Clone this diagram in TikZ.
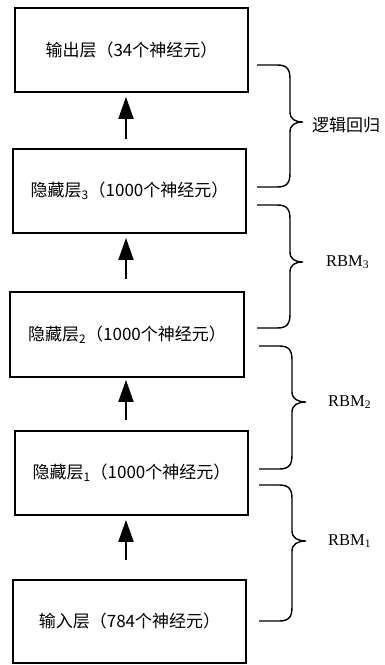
\documentclass[tikz,border=0pt]{standalone}
\usepackage{fontspec}
\usetikzlibrary{arrows.meta}
\newfontfamily\cjk{Noto Sans CJK SC}
\newfontfamily\tnr{Liberation Serif}
\newcommand\mybrace[6]{%
  \draw[brc] (#1,#4) -- (#2-13,#4) .. controls (#2-3,#4) and (#2,#4+4) .. (#2,#4+14)
    -- (#2,#5-10) .. controls (#2,#5-3) and (#3-8,#5) .. (#3,#5)
    .. controls (#3-8,#5) and (#2,#5+3) .. (#2,#5+10)
    -- (#2,#6-14) .. controls (#2,#6-4) and (#2-3,#6) .. (#2-13,#6) -- (#1,#6);}
\begin{document}
\begin{tikzpicture}[x=1pt,y=-1pt,
  layer/.style={draw=black,line width=1.8pt,fill=white,minimum width=233pt,minimum height=84pt,inner sep=0pt,font=\cjk\fontsize{17}{20}\selectfont},
  arr/.style={line width=2pt,-{Triangle[width=15pt,length=22pt]}},
  brc/.style={line width=1.4pt},
  lab/.style={anchor=west,inner sep=0pt},
  cnlab/.style={lab,font=\cjk\fontsize{17}{20}\selectfont},
  rbmlab/.style={lab,font=\tnr\fontsize{16.5}{20}\selectfont}]
\useasboundingbox (0,0) rectangle (385,665);
\node[layer] (out) at (131.5,50) {输出层（34个神经元）};
\node[layer] (h3) at (129.5,191) {隐藏层\textsubscript{3}（1000个神经元）};
\node[layer,minimum width=234pt,minimum height=85pt] (h2) at (127,334.5) {隐藏层\textsubscript{2}（1000个神经元）};
\node[layer] (h1) at (131.5,473) {隐藏层\textsubscript{1}（1000个神经元）};
\node[layer,minimum height=83pt] (in) at (129.5,621.5) {输入层（784个神经元）};
\coordinate (ax) at (126,0);
\draw[arr,shorten <=9pt,shorten >=4pt] (h3.north -| ax) -- (out.south -| ax);
\draw[arr,shorten <=12pt,shorten >=4pt] (h2.north -| ax) -- (h3.south -| ax);
\draw[arr,shorten <=10pt,shorten >=2pt] (h1.north -| ax) -- (h2.south -| ax);
\draw[arr,shorten <=19pt,shorten >=4pt] (in.north -| ax) -- (h1.south -| ax);
\mybrace{257}{290}{303}{65}{122}{187}
\mybrace{257}{290}{303}{205}{262}{328}
\mybrace{259}{292}{306}{346}{402}{469}
\mybrace{259}{292}{306}{485}{541}{621}
\node[cnlab] (lr) at (312,125) {逻辑回归};
\node[rbmlab] (r3) at (326,262) {RBM\textsubscript{3}};
\node[rbmlab] (r2) at (328,402) {RBM\textsubscript{2}};
\node[rbmlab] (r1) at (328,541) {RBM\textsubscript{1}};
\end{tikzpicture}
\end{document}
